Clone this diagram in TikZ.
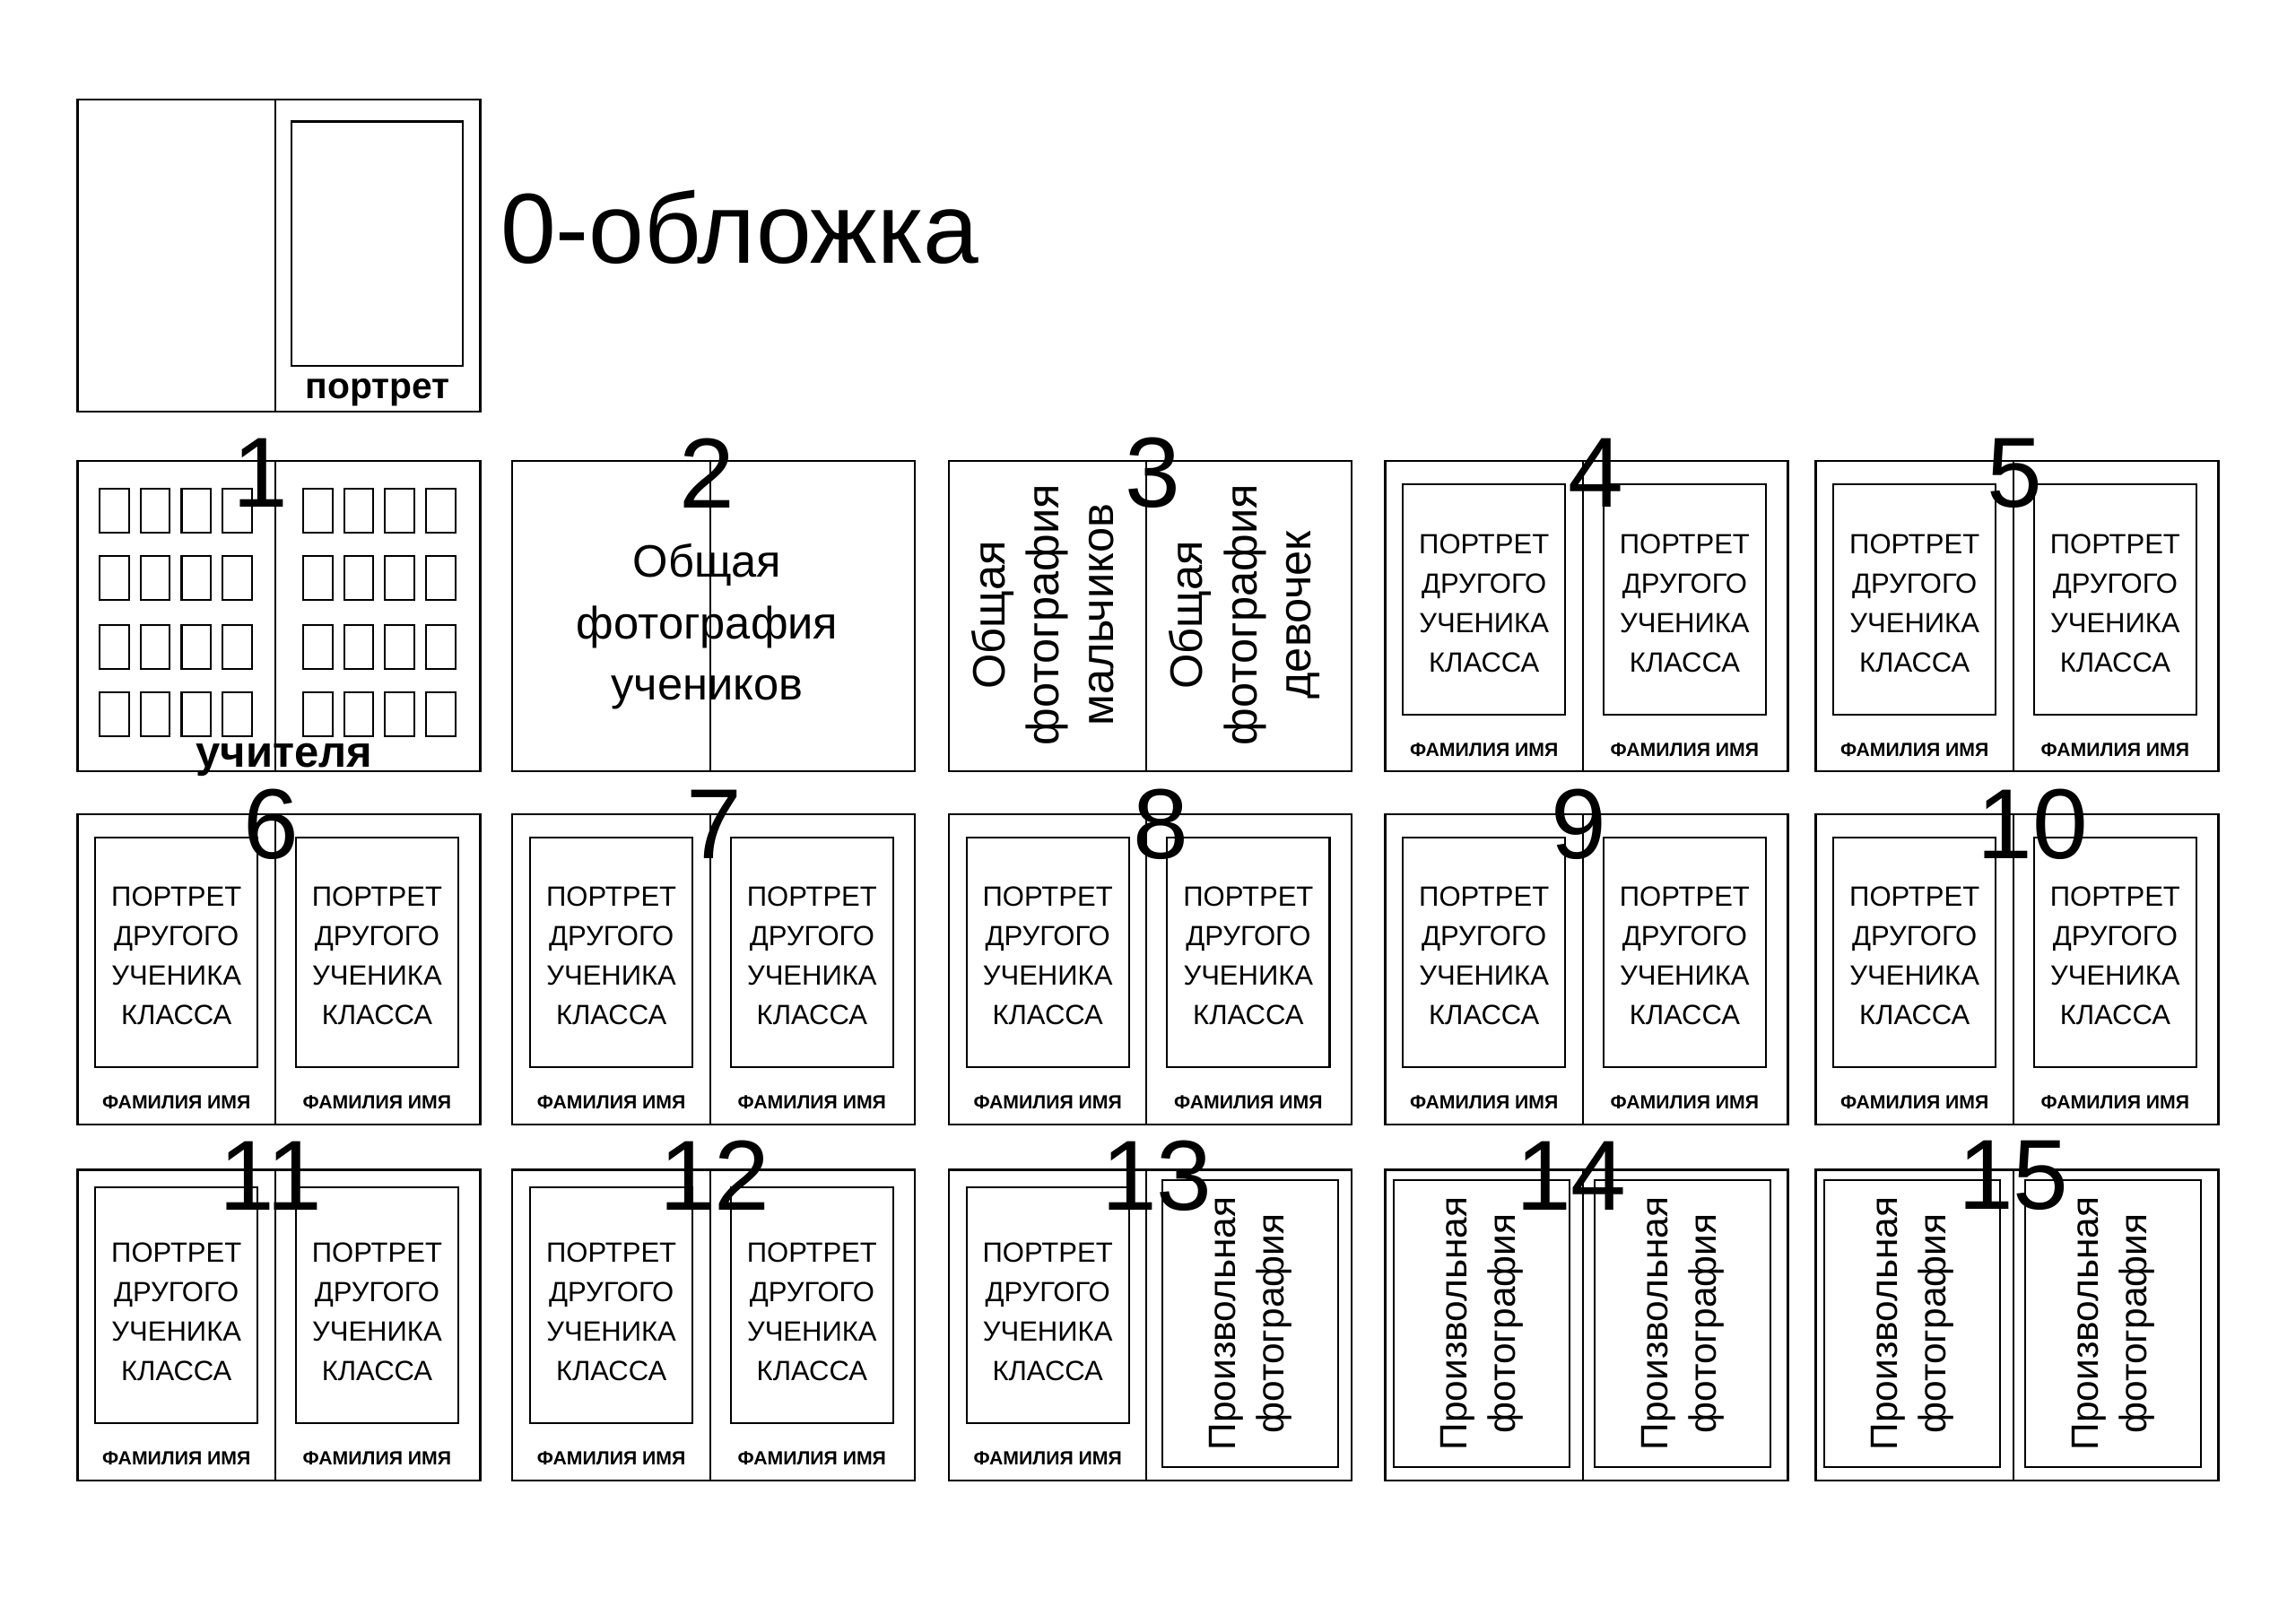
\documentclass[tikz,border=0pt]{standalone}
\usepackage{fontspec}
\setmainfont{Liberation Sans}
\begin{document}
\begin{tikzpicture}[x=1pt,y=-1pt,line width=1.3pt,
  num/.style={font=\fontsize{68}{68}\selectfont,anchor=center,inner sep=0},
  ptxt/.style={align=center,font=\fontsize{19}{27}\selectfont,inner sep=0},
  fam/.style={font=\fontsize{13}{14}\selectfont\bfseries,inner sep=0},
  big/.style={align=center,font=\fontsize{31}{42}\selectfont,inner sep=0},
  arb/.style={align=center,font=\fontsize{26}{33}\selectfont,inner sep=0,rotate=90}]
\useasboundingbox (0,0) rectangle (1568,1109);
\newcommand\spread[2]{\draw (#1,#2) rectangle ++(275,212); \draw (#1+135,#2) -- ++(0,212);}
\newcommand\portr[3][16]{%
  \draw (#2+12,#3+#1) rectangle (#2+123,#3+173);
  \node[ptxt] at (#2+67.5,#3+97) {ПОРТРЕТ\\ДРУГОГО\\УЧЕНИКА\\КЛАССА};
  \node[fam] at (#2+67.5,#3+197) {ФАМИЛИЯ ИМЯ};}
\newcommand\arbit[3]{%
  \draw (#1+#3,#2+7) rectangle (#1+#3+120,#2+203);
  \node[arb] at (#1+#3+60,#2+105) {Произвольная\\фотография};}
% cover
\draw (53,68) rectangle (328,281); \draw (188,68) -- (188,281);
\draw (199,83) rectangle (316,250);
\node[font=\fontsize{25}{25}\selectfont\bfseries,inner sep=0] at (258,268) {портрет};
\node[font=\fontsize{68}{68}\selectfont,inner sep=0] at (505,155) {0-обложка};
% spreads
\foreach \y in {315,556,799}{\foreach \x in {53,350,648,946,1240}{\spread{\x}{\y}}}
% spread 1
\foreach \px in {68,207}{\foreach \i in {0,1,2,3}{\foreach \yy in {334,380,427,473}{
  \draw (\px+28*\i,\yy) rectangle ++(20,30);}}}
\node[font=\fontsize{30}{30}\selectfont\bfseries,inner sep=0] at (194,519) {учителя};
% spread 2
\node[big] at (483,428) {Общая\\фотография\\учеников};
% spread 3
\node[big,font=\fontsize{31}{37}\selectfont,rotate=90] at (712,420) {Общая\\фотография\\мальчиков};
\node[big,font=\fontsize{31}{37}\selectfont,rotate=90] at (850,420) {Общая\\фотография\\девочек};
% portraits
\foreach \x in {946,1240}{\portr{\x}{315}\portr{\x+137}{315}}
\foreach \x in {53,350,648,946,1240}{\portr{\x}{556}\portr{\x+137}{556}}
\foreach \x in {53,350}{\portr[12]{\x}{799}\portr[12]{\x+137}{799}}
\portr[12]{648}{799}
\arbit{783}{799}{11}
\arbit{946}{799}{6}\arbit{1081}{799}{8}
\arbit{1240}{799}{6}\arbit{1375}{799}{8}
% numbers
\foreach \n/\x/\y in {1/178/323,2/483/323,3/787/323,4/1090/323,5/1376/323,
  6/185/563,7/488/563,8/793/563,9/1078/563,10/1388/563,
  11/185/803,12/488/803,13/790/803,14/1073/803,15/1375/803}{\node[num] at (\x,\y) {\n};}
\end{tikzpicture}
\end{document}
